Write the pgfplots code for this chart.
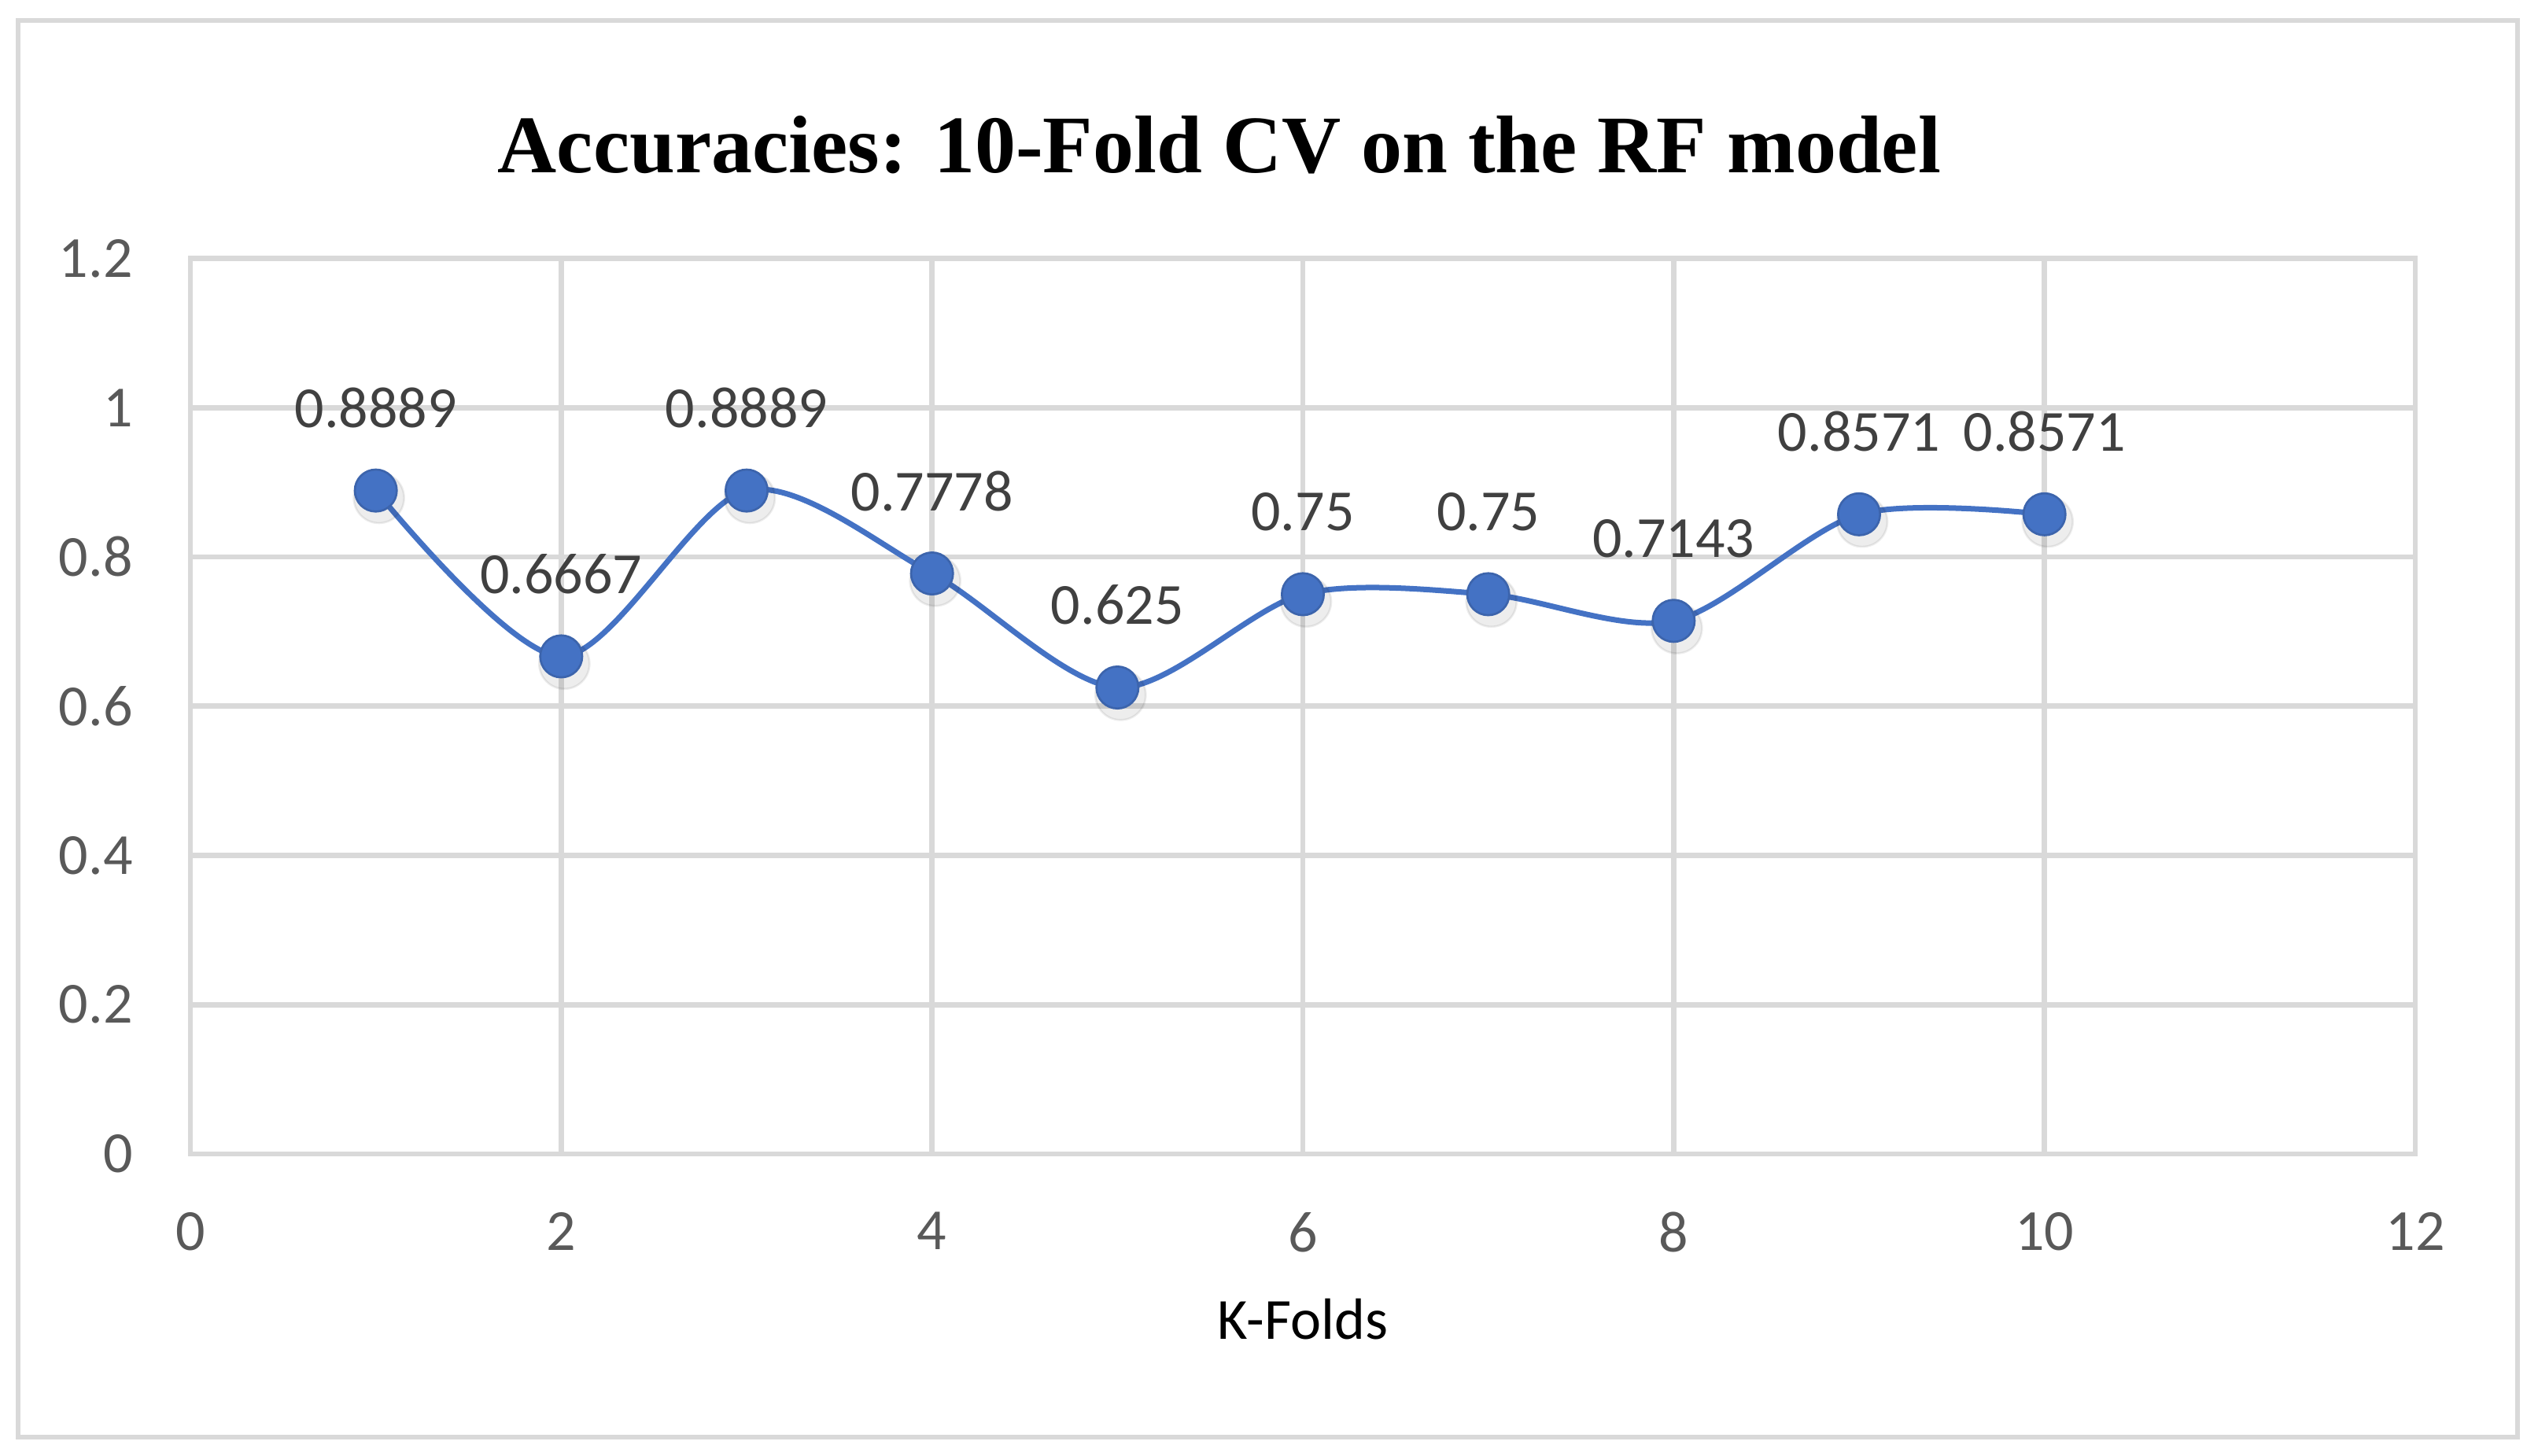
\documentclass[border=0pt]{standalone}
\usepackage{fontspec}
\setmainfont{Carlito}
\newfontfamily\titlefont{Liberation Serif}
\usepackage{pgfplots}
\pgfplotsset{compat=1.18}
\usepackage{pgfplotstable}
\definecolor{gridc}{HTML}{D9D9D9}
\definecolor{tickc}{HTML}{595959}
\definecolor{labc}{HTML}{404040}
\definecolor{serblue}{HTML}{4472C4}
\pgfplotstableread{
x y lab
1 0.8889 0.8889
2 0.6667 0.6667
3 0.8889 0.8889
4 0.7778 0.7778
5 0.625 0.625
6 0.75 0.75
7 0.75 0.75
8 0.7143 0.7143
9 0.8571 0.8571
10 0.8571 0.8571
}\datatab
\begin{document}
\begin{tikzpicture}
\path[use as bounding box] (-36.3pt,-57.6pt) rectangle (447.6pt,220.05pt);
\draw[gridc, line width=0.9pt] (-32.775pt,-54pt) rectangle (443.7pt,216.15pt);
\begin{axis}[
  at={(0pt,0pt)}, anchor=south west,
  scale only axis, width=424.2pt, height=170.775pt,
  xmin=0, xmax=12, ymin=0, ymax=1.2,
  xtick={0,2,4,6,8,10,12}, ytick={0,0.2,0.4,0.6,0.8,1,1.2},
  grid=major, major grid style={gridc, line width=1pt},
  axis line style={gridc, line width=1pt},
  major tick length=0pt,
  tick label style={font=\fontsize{11.1}{13}\selectfont, text=tickc, inner sep=0pt},
  yticklabel style={anchor=east, xshift=-10.8pt},
  xticklabel style={anchor=north, yshift=-10.95pt},
  /pgf/number format/assume math mode=true,
  clip=false,
  every axis title shift=0pt,
  title={Accuracies: 10-Fold CV on the RF model},
  title style={at={(axis description cs:0.4625,1)}, anchor=base, yshift=16.275pt, inner sep=0pt,
    font=\titlefont\bfseries\fontsize{15.6}{18}\selectfont, text=black},
  xlabel={K-Folds},
  xlabel style={at={(axis description cs:0.5,0)}, anchor=base, yshift=-35.4pt, inner sep=0pt,
    font=\fontsize{11.1}{13}\selectfont, text=black},
]
\addplot[only marks, mark=*, mark size=4.8pt, mark options={fill=black, draw=none, opacity=0.07},
  xshift=0.6pt, yshift=-1.4pt, forget plot] table[x=x,y=y]{\datatab};
\addplot[serblue, line width=1.05pt, smooth, tension=0.5, mark=*, mark size=4pt,
  mark options={fill=serblue, draw=serblue!88!black, line width=0.4pt},
  nodes near coords, point meta=explicit symbolic,
  every node near coord/.append style={anchor=center, yshift=15.75pt, inner sep=0pt,
    font=\fontsize{11.1}{13}\selectfont, text=labc}]
  table[x=x,y=y,meta=lab]{\datatab};
\end{axis}
\end{tikzpicture}
\end{document}
